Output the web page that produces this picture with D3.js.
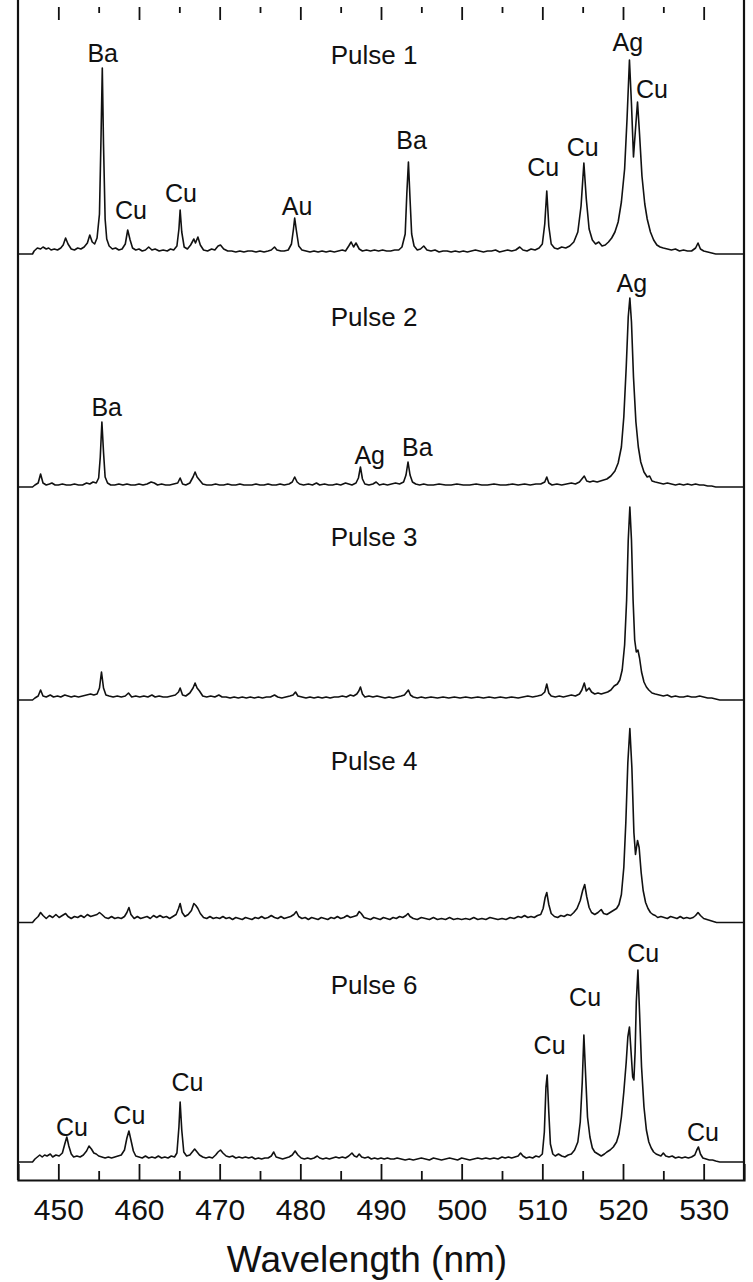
<!DOCTYPE html>
<html><head><meta charset="utf-8">
<script src="https://cdn.jsdelivr.net/npm/d3@7"></script>
<style>body{margin:0;background:#fff}svg{display:block}text{font-family:"Liberation Sans",Arial,sans-serif;fill:#111}</style>
</head><body>
<script>
// ---------- DATA (wavelength nm, intensity a.u.) ----------
const pulse1 = [[445,0],[446.8,0],[447.0,3],[447.4,6],[447.8,5],[448.1,7],[448.5,5],[448.8,6],[449.1,4],[449.5,5],[449.9,4],[450.3,6],[450.6,9],[450.9,16],[451.2,10],[451.6,5],[452.0,4],[452.4,6],[452.8,5],[453.2,7],[453.6,11],[453.9,19],[454.2,12],[454.5,10],[454.8,16],[455.1,40],[455.3,120],[455.45,186],[455.6,110],[455.8,35],[456.0,15],[456.3,8],[456.7,5],[457.1,6],[457.5,4],[457.9,5],[458.3,10],[458.6,24],[458.9,14],[459.2,6],[459.6,4],[460.0,5],[460.4,3],[460.8,4],[461.2,7],[461.6,4],[462.0,5],[462.5,3],[463.0,4],[463.5,3],[463.9,5],[464.3,4],[464.7,8],[464.95,25],[465.1,44],[465.3,22],[465.6,7],[466.0,5],[466.4,9],[466.8,15],[467.0,11],[467.3,17],[467.6,9],[468.0,4],[468.5,3],[469.0,5],[469.4,4],[469.8,8],[470.1,9],[470.5,5],[471.0,3],[471.5,3],[472.0,2],[472.5,3],[473.0,2],[473.5,3],[474.0,3],[474.5,2],[475.0,3],[475.5,2],[476.0,3],[476.4,4],[476.8,7],[477.1,4],[477.6,3],[478.0,3],[478.5,4],[478.9,10],[479.15,25],[479.3,36],[479.5,24],[479.8,8],[480.2,4],[480.7,3],[481.2,2],[481.7,3],[482.2,2],[482.7,3],[483.2,2],[483.7,3],[484.2,2],[484.7,3],[485.2,4],[485.6,3],[486.0,8],[486.3,12],[486.6,7],[486.9,11],[487.3,5],[487.7,3],[488.2,4],[488.7,3],[489.2,4],[489.7,3],[490.2,4],[490.7,3],[491.2,3],[491.7,4],[492.2,4],[492.6,7],[493.0,20],[493.2,60],[493.4,92],[493.6,55],[493.8,20],[494.1,8],[494.5,4],[494.9,5],[495.3,8],[495.7,4],[496.2,3],[496.7,4],[497.2,2],[497.7,3],[498.2,3],[498.7,2],[499.2,3],[499.7,2],[500.2,3],[500.7,2],[501.2,3],[501.7,4],[502.2,3],[502.7,2],[503.2,3],[503.7,3],[504.2,4],[504.7,2],[505.2,3],[505.7,4],[506.2,3],[506.7,4],[507.2,7],[507.6,4],[508.1,3],[508.6,5],[509.1,4],[509.6,6],[510.0,10],[510.3,30],[510.55,63],[510.8,28],[511.1,10],[511.5,6],[511.9,5],[512.4,7],[512.9,6],[513.4,8],[513.9,12],[514.4,22],[514.8,48],[515.15,91],[515.45,55],[515.8,25],[516.2,14],[516.6,10],[517.0,12],[517.4,8],[517.8,9],[518.2,12],[518.6,16],[519.0,22],[519.4,32],[519.8,52],[520.2,85],[520.5,135],[520.8,194],[521.05,150],[521.3,97],[521.55,125],[521.8,152],[522.05,120],[522.35,78],[522.7,50],[523.0,35],[523.4,22],[523.8,14],[524.2,9],[524.6,7],[525.0,6],[525.5,5],[526.0,4],[526.5,5],[527.0,3],[527.5,4],[528.0,3],[528.5,3],[529.0,6],[529.3,11],[529.6,5],[530.0,3],[530.5,2],[531.0,1],[531.5,0],[535,0]];

const pulse2 = [[445,0],[446.8,0],[447.1,2],[447.5,4],[447.8,13],[448.1,4],[448.5,2],[448.9,3],[449.2,4],[449.6,2],[450.0,2],[450.5,3],[451.0,2],[451.5,2],[452.0,3],[452.5,2],[453.0,2],[453.5,4],[453.9,3],[454.3,5],[454.7,4],[455.0,9],[455.2,30],[455.4,65],[455.6,35],[455.8,10],[456.1,4],[456.5,2],[457.0,2],[457.5,3],[458.0,2],[458.5,3],[459.0,2],[459.5,2],[460.0,3],[460.5,2],[461.0,3],[461.5,5],[461.9,4],[462.3,2],[462.8,3],[463.3,2],[463.8,2],[464.3,3],[464.8,4],[465.1,9],[465.4,3],[465.8,2],[466.3,4],[466.7,10],[466.95,15],[467.2,10],[467.5,7],[467.9,3],[468.4,2],[469.0,2],[469.5,3],[470.0,2],[470.5,2],[471.0,3],[471.5,2],[472.0,2],[472.5,3],[473.0,2],[473.5,2],[474.0,2],[474.5,3],[475.0,2],[475.5,2],[476.0,3],[476.5,2],[477.0,2],[477.5,3],[478.0,2],[478.6,3],[479.0,5],[479.3,10],[479.6,5],[479.9,3],[480.4,2],[481.0,3],[481.5,2],[482.0,4],[482.4,2],[483.0,3],[483.5,2],[484.0,2],[484.5,3],[485.0,2],[485.6,4],[486.0,3],[486.4,2],[486.9,4],[487.2,9],[487.45,20],[487.7,8],[488.0,3],[488.5,2],[489.0,3],[489.4,5],[489.8,2],[490.3,3],[490.8,2],[491.3,3],[491.8,4],[492.3,3],[492.8,5],[493.1,12],[493.35,25],[493.6,12],[493.9,5],[494.3,3],[494.8,2],[495.3,3],[495.8,2],[496.5,2],[497.2,3],[498.0,2],[498.7,2],[499.4,3],[500.2,2],[501.0,2],[501.8,3],[502.5,2],[503.2,2],[504.0,3],[504.8,2],[505.5,2],[506.3,3],[507.0,2],[507.8,3],[508.5,2],[509.2,3],[509.8,3],[510.3,5],[510.55,10],[510.8,4],[511.2,2],[511.8,3],[512.4,2],[513.0,3],[513.6,4],[514.1,3],[514.6,5],[514.9,8],[515.2,11],[515.5,6],[515.9,5],[516.3,6],[516.8,5],[517.2,6],[517.6,7],[518.0,8],[518.5,11],[519.0,16],[519.4,24],[519.8,40],[520.1,70],[520.4,120],[520.65,170],[520.85,189],[521.05,165],[521.3,110],[521.6,65],[521.9,40],[522.2,25],[522.6,15],[523.0,10],[523.3,11],[523.6,6],[524.0,5],[524.5,4],[525.0,3],[525.5,4],[526.0,3],[526.5,2],[527.0,3],[527.5,2],[528.0,3],[528.5,2],[529.0,3],[529.5,2],[530.0,2],[530.5,1],[531.0,1],[531.5,0],[535,0]];

const pulse3 = [[445,0],[446.8,0],[447.1,2],[447.5,4],[447.8,10],[448.1,4],[448.5,3],[449.0,5],[449.4,3],[449.9,4],[450.3,3],[450.8,5],[451.2,4],[451.6,3],[452.0,4],[452.5,3],[453.0,4],[453.5,5],[454.0,6],[454.4,5],[454.8,6],[455.1,12],[455.35,28],[455.6,12],[455.9,5],[456.3,4],[456.8,3],[457.3,4],[457.8,3],[458.3,4],[458.7,7],[459.1,3],[459.6,4],[460.1,3],[460.6,4],[461.1,3],[461.6,5],[462.0,3],[462.5,4],[463.0,3],[463.5,3],[464.0,4],[464.5,5],[464.9,8],[465.1,12],[465.4,5],[465.8,4],[466.3,7],[466.7,12],[466.95,17],[467.2,12],[467.5,9],[467.9,4],[468.4,3],[468.9,4],[469.4,3],[469.9,5],[470.3,3],[470.8,3],[471.3,2],[471.8,3],[472.3,2],[472.8,3],[473.3,2],[473.8,3],[474.3,2],[474.8,3],[475.3,2],[475.8,3],[476.3,3],[476.8,5],[477.2,3],[477.7,2],[478.2,3],[478.7,4],[479.1,5],[479.4,8],[479.7,4],[480.2,3],[480.7,2],[481.2,3],[481.7,2],[482.2,3],[482.7,2],[483.2,3],[483.7,2],[484.2,3],[484.7,3],[485.2,4],[485.7,3],[486.2,5],[486.6,4],[487.0,6],[487.25,9],[487.45,13],[487.7,6],[488.0,3],[488.5,4],[489.0,3],[489.5,4],[490.0,3],[490.5,2],[491.0,3],[491.5,2],[492.0,3],[492.5,4],[492.9,5],[493.2,8],[493.4,10],[493.65,5],[494.0,3],[494.5,2],[495.0,3],[495.5,2],[496.2,3],[497.0,2],[497.7,3],[498.4,2],[499.1,3],[499.8,2],[500.5,3],[501.2,2],[502.0,3],[502.7,2],[503.4,3],[504.1,2],[504.8,3],[505.5,2],[506.2,3],[507.0,2],[507.6,3],[508.2,4],[508.8,3],[509.4,4],[509.9,5],[510.3,8],[510.55,16],[510.8,7],[511.1,4],[511.6,3],[512.1,4],[512.6,3],[513.1,4],[513.6,5],[514.1,4],[514.6,6],[514.9,10],[515.2,17],[515.45,9],[515.8,12],[516.1,8],[516.5,6],[516.9,7],[517.3,6],[517.7,7],[518.1,8],[518.5,10],[518.9,14],[519.3,16],[519.6,20],[519.9,30],[520.2,55],[520.45,100],[520.65,160],[520.85,193],[521.05,160],[521.25,100],[521.45,60],[521.65,48],[521.85,50],[522.05,42],[522.3,28],[522.6,18],[522.9,13],[523.2,10],[523.6,7],[524.0,6],[524.5,5],[525.0,4],[525.5,5],[526.0,3],[526.5,4],[527.0,3],[527.5,3],[528.0,4],[528.5,3],[529.0,3],[529.5,4],[530.0,3],[530.5,2],[531.0,2],[531.5,1],[532.0,0],[535,0]];

const pulse4 = [[445,0],[446.8,0],[447.1,3],[447.5,6],[447.8,10],[448.1,7],[448.5,4],[448.9,7],[449.3,5],[449.7,8],[450.1,5],[450.5,7],[450.9,9],[451.2,6],[451.6,4],[452.0,6],[452.4,5],[452.8,7],[453.2,5],[453.6,8],[454.0,6],[454.4,7],[454.8,8],[455.1,10],[455.4,8],[455.8,5],[456.2,4],[456.6,6],[457.0,4],[457.4,5],[457.8,4],[458.2,6],[458.5,10],[458.75,15],[459.0,8],[459.4,4],[459.8,6],[460.2,4],[460.6,5],[461.0,6],[461.4,4],[461.8,7],[462.2,5],[462.6,7],[463.0,5],[463.4,6],[463.8,4],[464.2,6],[464.6,8],[464.9,14],[465.1,19],[465.35,10],[465.7,6],[466.1,8],[466.5,12],[466.8,19],[467.05,17],[467.3,14],[467.6,9],[468.0,5],[468.4,4],[468.8,6],[469.2,4],[469.6,5],[470.0,4],[470.4,6],[470.8,4],[471.2,5],[471.6,3],[472.0,5],[472.4,4],[472.8,3],[473.2,5],[473.6,4],[474.0,3],[474.4,5],[474.8,4],[475.2,6],[475.6,4],[476.0,5],[476.4,7],[476.8,5],[477.2,4],[477.6,6],[478.0,4],[478.4,5],[478.8,6],[479.2,8],[479.5,11],[479.8,6],[480.2,4],[480.6,5],[481.0,3],[481.4,5],[481.8,4],[482.2,3],[482.6,5],[483.0,4],[483.4,3],[483.8,5],[484.2,4],[484.6,6],[485.0,4],[485.4,5],[485.8,7],[486.2,5],[486.6,6],[487.0,7],[487.3,11],[487.55,9],[487.9,5],[488.3,4],[488.7,3],[489.1,5],[489.5,4],[489.9,3],[490.3,5],[490.7,4],[491.1,3],[491.5,5],[491.9,4],[492.3,6],[492.7,5],[493.1,7],[493.35,9],[493.6,6],[494.0,4],[494.5,3],[495.0,5],[495.5,4],[496.0,3],[496.5,5],[497.0,3],[497.5,4],[498.0,3],[498.5,5],[499.0,3],[499.5,4],[500.0,3],[500.5,4],[501.0,3],[501.5,5],[502.0,3],[502.5,4],[503.0,3],[503.5,5],[504.0,4],[504.5,3],[505.0,4],[505.5,3],[506.0,5],[506.5,4],[507.0,6],[507.4,5],[507.8,7],[508.2,5],[508.6,6],[509.0,5],[509.4,7],[509.8,8],[510.1,14],[510.35,25],[510.55,30],[510.8,18],[511.1,9],[511.5,6],[511.9,5],[512.3,7],[512.7,6],[513.1,8],[513.5,7],[513.9,10],[514.3,14],[514.7,22],[515.0,32],[515.25,38],[515.5,26],[515.8,15],[516.1,10],[516.5,8],[516.9,10],[517.3,13],[517.6,9],[518.0,8],[518.4,10],[518.8,12],[519.2,14],[519.5,18],[519.8,28],[520.1,55],[520.35,100],[520.6,160],[520.85,194],[521.1,155],[521.35,90],[521.55,68],[521.8,82],[522.0,75],[522.25,50],[522.5,32],[522.8,20],[523.1,14],[523.4,10],[523.7,8],[524.0,7],[524.3,5],[524.7,6],[525.1,5],[525.5,4],[525.9,6],[526.3,5],[526.7,4],[527.1,6],[527.5,4],[527.9,5],[528.3,4],[528.7,5],[529.0,7],[529.3,10],[529.6,7],[530.0,4],[530.4,3],[530.8,2],[531.2,1],[531.6,0],[535,0]];

const pulse6 = [[445,0],[446.8,0],[447.1,3],[447.4,5],[447.7,7],[448.0,5],[448.3,7],[448.6,6],[449.0,8],[449.3,5],[449.7,7],[450.1,6],[450.5,9],[450.8,18],[451.05,25],[451.3,16],[451.6,8],[451.9,5],[452.3,6],[452.7,5],[453.1,7],[453.5,11],[453.8,16],[454.1,13],[454.4,9],[454.7,8],[455.0,6],[455.4,5],[455.8,4],[456.2,5],[456.6,4],[457.0,5],[457.4,6],[457.8,7],[458.2,12],[458.5,24],[458.75,31],[459.0,22],[459.3,11],[459.6,6],[460.0,5],[460.4,4],[460.8,6],[461.2,4],[461.6,5],[462.0,4],[462.4,6],[462.8,4],[463.2,5],[463.6,4],[464.0,6],[464.4,5],[464.7,9],[464.95,35],[465.1,60],[465.3,32],[465.55,10],[465.9,6],[466.3,7],[466.6,10],[466.9,13],[467.2,10],[467.5,7],[467.9,5],[468.3,4],[468.7,5],[469.1,4],[469.5,7],[469.8,10],[470.1,12],[470.4,9],[470.8,6],[471.2,5],[471.6,6],[472.0,4],[472.4,5],[472.8,4],[473.2,5],[473.6,4],[474.0,5],[474.4,3],[474.8,4],[475.2,3],[475.6,4],[476.0,4],[476.4,6],[476.7,10],[477.0,5],[477.4,4],[477.8,3],[478.2,4],[478.6,5],[479.0,7],[479.35,11],[479.7,7],[480.1,4],[480.5,3],[480.9,4],[481.3,3],[481.7,4],[482.1,6],[482.4,4],[482.8,3],[483.2,4],[483.6,3],[484.0,4],[484.4,5],[484.8,4],[485.2,5],[485.6,4],[486.0,6],[486.4,9],[486.7,6],[487.0,5],[487.3,8],[487.6,5],[488.0,4],[488.4,5],[488.8,3],[489.2,4],[489.6,3],[490.0,4],[490.4,3],[490.8,4],[491.2,3],[491.6,3],[492.0,4],[492.5,3],[493.0,2],[493.5,3],[494.0,2],[494.5,3],[495.0,4],[495.5,3],[496.0,2],[496.5,4],[497.0,3],[497.5,2],[498.0,3],[498.5,4],[499.0,3],[499.5,2],[500.0,4],[500.5,3],[501.0,2],[501.5,3],[502.0,4],[502.5,3],[503.0,4],[503.5,3],[504.0,4],[504.5,3],[505.0,5],[505.4,4],[505.8,5],[506.2,4],[506.6,5],[507.0,6],[507.3,9],[507.6,6],[508.0,4],[508.4,5],[508.8,4],[509.2,6],[509.6,5],[510.0,8],[510.25,30],[510.45,75],[510.6,87],[510.8,50],[511.0,18],[511.3,8],[511.6,6],[512.0,8],[512.4,6],[512.8,5],[513.2,7],[513.6,8],[514.0,12],[514.4,20],[514.7,40],[514.95,80],[515.15,127],[515.35,90],[515.6,45],[515.9,25],[516.2,14],[516.5,10],[516.9,8],[517.3,6],[517.7,8],[518.0,10],[518.4,12],[518.8,15],[519.2,20],[519.5,28],[519.8,45],[520.1,70],[520.4,100],[520.6,125],[520.8,135],[521.0,110],[521.2,85],[521.35,82],[521.5,110],[521.65,160],[521.85,192],[522.05,150],[522.3,95],[522.6,55],[522.9,32],[523.2,20],[523.5,14],[523.8,10],[524.1,8],[524.4,7],[524.7,6],[525.0,9],[525.3,6],[525.7,5],[526.1,6],[526.5,4],[526.9,5],[527.3,4],[527.7,5],[528.1,4],[528.5,5],[528.9,7],[529.15,12],[529.35,15],[529.6,8],[529.9,4],[530.3,3],[530.7,2],[531.1,2],[531.5,1],[532.0,0],[535,0]];

// panel titles
const pulseNames = ["Pulse 1", "Pulse 2", "Pulse 3", "Pulse 4", "Pulse 6"];
// element annotations: [text, wavelength (nm), intensity level of label]
const labels1 = [["Ba",455.5,201],["Cu",459.0,44],["Cu",465.2,61],["Au",479.6,48],["Ba",493.8,114],["Cu",510.1,87],["Cu",515.0,107],["Ag",520.6,212],["Cu",523.6,165]];
const labels2 = [["Ag",521.1,204],["Ba",456.0,80],["Ag",488.6,32],["Ba",494.5,40]];
const labels3 = [];
const labels4 = [];
const labels6 = [["Cu",522.5,209],["Cu",515.3,165],["Cu",510.9,117],["Cu",466.0,80],["Cu",458.8,47],["Cu",451.7,35],["Cu",529.9,30]];
// title level per panel (intensity units)
const titleLevels = [199, 170, 163, 162, 177];
// axis ticks
const majorTicks = [450,460,470,480,490,500,510,520,530];
const minorTicks = [455,465,475,485,495,505,515,525];
const xTitle = "Wavelength (nm)";

// ---------- LAYOUT ----------
const W = 753, H = 1282;
const left = 18, right = 744, axisY = 1180;
const bases = [254, 487, 700, 922.5, 1162];
const spectra = [pulse1, pulse2, pulse3, pulse4, pulse6];
const labelSets = [labels1, labels2, labels3, labels4, labels6];
const ink = "#111";

const svg = d3.select("body").append("svg").attr("width", W).attr("height", H);
svg.append("rect").attr("width", W).attr("height", H).attr("fill", "#fff");

const x = d3.scaleLinear().domain([445, 535]).range([left, right]);

// frame
svg.append("line").attr("x1", left).attr("x2", left).attr("y1", 0).attr("y2", axisY).attr("stroke", ink).attr("stroke-width", 2.2);
svg.append("line").attr("x1", right).attr("x2", right).attr("y1", 0).attr("y2", axisY).attr("stroke", ink).attr("stroke-width", 2.2);

// bottom axis
const gB = svg.append("g").attr("transform", `translate(0,${axisY})`)
  .call(d3.axisBottom(x).tickValues(majorTicks).tickSize(-16).tickFormat(d3.format("d")));
gB.select(".domain").attr("stroke", ink).attr("stroke-width", 2.2);
gB.selectAll(".tick line").attr("stroke", ink).attr("stroke-width", 1.8);
gB.selectAll(".tick text").attr("y", 40).attr("dy", null).attr("font-size", 30).attr("fill", ink)
  .attr("font-family", '"Liberation Sans", Arial, sans-serif');
const gBm = svg.append("g").attr("transform", `translate(0,${axisY})`)
  .call(d3.axisBottom(x).tickValues(minorTicks).tickSize(-9).tickFormat(""));
gBm.select(".domain").remove();
gBm.selectAll(".tick line").attr("stroke", ink).attr("stroke-width", 1.8);

// top ticks
const gT = svg.append("g").attr("transform", "translate(0,7)")
  .call(d3.axisTop(x).tickValues(majorTicks).tickSize(-13).tickFormat(""));
gT.select(".domain").remove();
gT.selectAll(".tick line").attr("stroke", ink).attr("stroke-width", 1.8);
const gTm = svg.append("g").attr("transform", "translate(0,7)")
  .call(d3.axisTop(x).tickValues(minorTicks).tickSize(-6).tickFormat(""));
gTm.select(".domain").remove();
gTm.selectAll(".tick line").attr("stroke", ink).attr("stroke-width", 1.8);

// x title
svg.append("text").attr("x", 367).attr("y", 1272).attr("text-anchor", "middle")
  .attr("font-size", 37).text(xTitle);

// panels
spectra.forEach((data, i) => {
  const base = bases[i];
  const y = d3.scaleLinear().domain([0, 200]).range([base, base - 200]);
  const line = d3.line().x(d => x(d[0])).y(d => y(d[1]));
  svg.append("path").datum(data).attr("d", line)
    .attr("fill", "none").attr("stroke", ink).attr("stroke-width", 1.6).attr("stroke-linejoin", "round");
  svg.append("text").attr("x", 374).attr("y", y(titleLevels[i]) + 9).attr("text-anchor", "middle")
    .attr("font-size", 26).text(pulseNames[i]);
  svg.selectAll(null).data(labelSets[i]).enter().append("text")
    .attr("x", d => x(d[1])).attr("y", d => y(d[2]) + 9).attr("text-anchor", "middle")
    .attr("font-size", 25).text(d => d[0]);
});
</script>
</body></html>
